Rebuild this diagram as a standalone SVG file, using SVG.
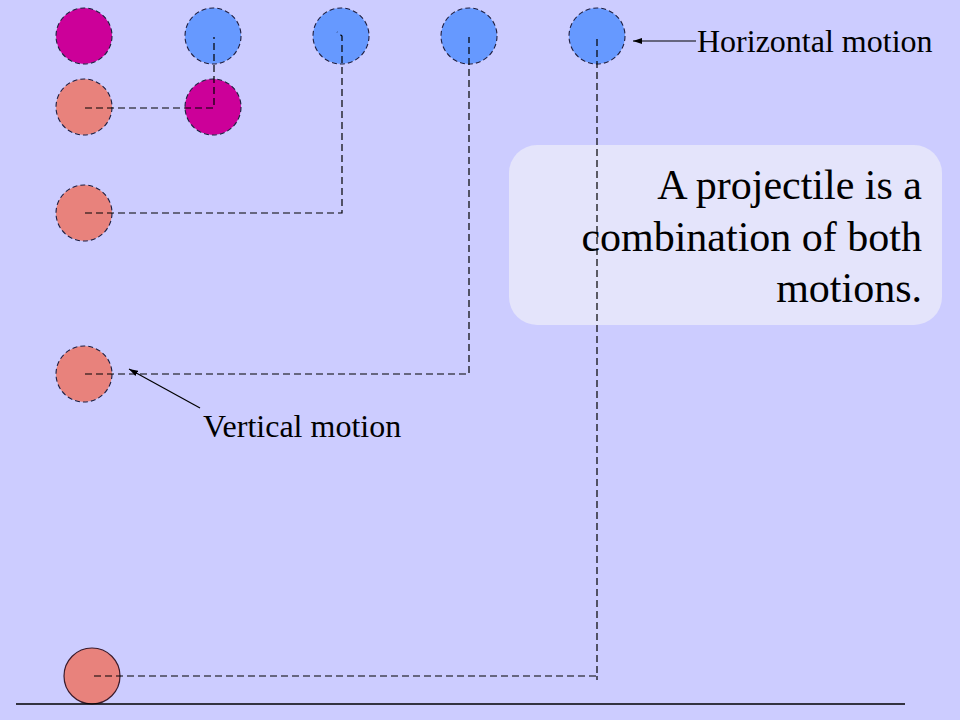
<svg xmlns="http://www.w3.org/2000/svg" width="960" height="720" viewBox="0 0 960 720">
<style>
.ball{stroke:#1e1e40;stroke-width:1.1;stroke-dasharray:5,3}
.mag{fill:#CC0099}
.blue{fill:#6699FF}
.sal{fill:#E8827C}
.dash{fill:none;stroke:#000;stroke-width:1.2;stroke-dasharray:7,4}
.lbl{font-family:"Liberation Serif","Times New Roman",serif;fill:#000}
.ptr{stroke:#000;stroke-width:1.2;fill:none}
</style>
<defs>
<marker id="ah" markerWidth="10" markerHeight="8" refX="9" refY="4" orient="auto" markerUnits="userSpaceOnUse">
<path d="M0,1 L9,4 L0,7 Z" fill="#000"/>
</marker>
</defs>
<rect width="960" height="720" fill="#CCCCFF"/>
<g id="textbox">
<rect x="509" y="145" width="433" height="180" rx="28" fill="#E4E4FB"/>
<text class="lbl" font-size="42" text-anchor="end" x="922" y="199">A projectile is a</text>
<text class="lbl" font-size="42" text-anchor="end" x="922" y="251">combination of both</text>
<text class="lbl" font-size="42" text-anchor="end" x="922" y="302">motions.</text>
</g>
<g id="ball-top-1"><circle class="ball mag" cx="84" cy="36" r="28"/></g>
<g id="ball-top-2"><circle class="ball blue" cx="213" cy="36" r="28"/></g>
<g id="ball-top-3"><circle class="ball blue" cx="341" cy="36" r="28"/></g>
<g id="ball-top-4"><circle class="ball blue" cx="469" cy="36" r="28"/></g>
<g id="ball-top-5"><circle class="ball blue" cx="597" cy="36" r="28"/></g>
<g id="ball-v-1"><circle class="ball sal" cx="84" cy="107" r="28"/></g>
<g id="ball-p-1"><circle class="ball mag" cx="213" cy="107" r="28"/></g>
<g id="ball-v-2"><circle class="ball sal" cx="84" cy="213" r="28"/></g>
<g id="ball-v-3"><circle class="ball sal" cx="84" cy="374" r="28"/></g>
<g id="ball-ground"><circle cx="92" cy="676" r="28" fill="#E8827C" stroke="#3a1a2a" stroke-width="1.2"/></g>
<g id="ground"><line x1="16" y1="704" x2="905" y2="704" stroke="#000" stroke-width="1.5"/></g>
<g id="connectors">
<polyline class="dash" points="85,108 214,108 214,37"/>
<polyline class="dash" points="85,213 342,213 342,36 337,32"/>
<polyline class="dash" points="85,374 469,374 469,37"/>
<polyline class="dash" points="94,676 597,676 597,37"/>
<line x1="597" y1="676" x2="597" y2="680" stroke="#000" stroke-width="1.2"/>
<line class="ptr" x1="696" y1="41" x2="633" y2="41" marker-end="url(#ah)"/>
<line class="ptr" x1="200" y1="408" x2="129" y2="369" marker-end="url(#ah)"/>
</g>
<g id="label-horizontal"><text class="lbl" font-size="32" x="697" y="52">Horizontal motion</text></g>
<g id="label-vertical"><text class="lbl" font-size="32" x="203" y="437">Vertical motion</text></g>
</svg>
